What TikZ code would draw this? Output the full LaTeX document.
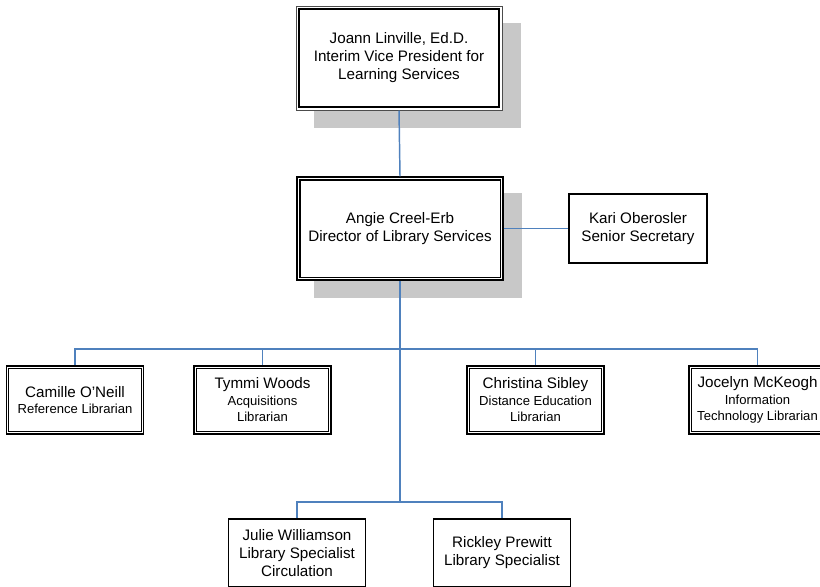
\documentclass[tikz,border=0pt]{standalone}
\usepackage{fontspec}
\setmainfont{Liberation Sans}
\usetikzlibrary{backgrounds}
\definecolor{link}{RGB}{79,129,189}
\definecolor{shade}{RGB}{200,200,200}
\newcommand{\nmsz}{\fontsize{11.4}{12.4}\selectfont}
\newcommand{\smsz}{\fontsize{9.8}{12.4}\selectfont}
% lower a centred block of lines by a small amount
\newcommand{\lowered}[2]{\raisebox{-#1}{\begin{tabular}{@{}c@{}}#2\end{tabular}}}

\begin{document}
\begin{tikzpicture}[x=0.75pt,y=-0.75pt,
  box/.style={draw=black, fill=white, inner sep=0pt, align=center,
    font=\fontsize{11.4}{13.5}\selectfont},
  bigbox/.style={box, minimum width=154.5pt},
  staff/.style={box, line width=1.25pt, minimum width=102.75pt, minimum height=51pt, font=\smsz},
  plain/.style={box, line width=1.1pt},
  conn/.style={draw=link, line width=1.1pt},
  shadowbox/.style={fill=shade}]

\useasboundingbox (0,0) rectangle (820,586);
\clip (0,0) rectangle (820,586);

% top of the chart
\node[bigbox, draw=black!70, line width=0.75pt, minimum height=78pt] (vp) at (399,58)
  {\lowered{1.5pt}{Joann Linville, Ed.D.\\Interim Vice President for\\Learning Services}};
\draw[line width=1.5pt] ([shift={(3.5,3.5)}]vp.north west) rectangle ([shift={(-3.5,-3.5)}]vp.south east);

\node[bigbox, line width=1.1pt, minimum height=77.25pt] (dir) at (400,228.5)
  {Angie Creel-Erb\\Director of Library Services};
\draw[line width=1.1pt] ([shift={(3.5,3.5)}]dir.north west) rectangle ([shift={(-3.5,-3.5)}]dir.south east);

\node[plain, minimum width=103.5pt, minimum height=51.75pt] (sec) at (638,228.5)
  {Kari Oberosler\\Senior Secretary};

% librarians
\node[staff] (cam) at (75,400) {{\nmsz Camille O'Neill}\\Reference Librarian};
\node[staff] (tym) at (262.5,400) {{\nmsz Tymmi Woods}\\Acquisitions\\Librarian};
\node[staff] (chr) at (535.5,400) {{\nmsz Christina Sibley}\\Distance Education\\Librarian};
\node[staff] (joc) at (757.5,400) {{\nmsz Jocelyn McKeogh}\\Information\\Technology Librarian};
\foreach \n in {cam,tym,chr,joc}
  \draw[line width=0.75pt] ([shift={(3,3)}]\n.north west) rectangle ([shift={(-3,-3)}]\n.south east);

% specialists
\node[plain, minimum width=102.75pt, minimum height=51pt] (jul) at (297,553)
  {Julie Williamson\\Library Specialist\\Circulation};
\node[plain, minimum width=102.75pt, minimum height=51pt] (ric) at (502,553)
  {Rickley Prewitt\\Library Specialist};

% drop shadows behind the two leading boxes
\begin{scope}[on background layer]
  \foreach \n in {vp,dir}
    \fill[shadowbox] ([shift={(18,17)}]\n.north west) rectangle ([shift={(18,17)}]\n.south east);
\end{scope}

% reporting lines
\coordinate (busA) at (400,349);
\coordinate (busB) at (400,502);
\draw[conn] (vp.south) -- (dir.north);
\draw[conn] (dir.east) -- (sec.west);
\draw[conn] (dir.south) -- (busB);
\draw[conn] (cam.north) |- (busA) -| (joc.north);
\draw[conn] (tym.north) |- (busA);
\draw[conn] (chr.north) |- (busA);
\draw[conn] (jul.north) |- (busB) -| (ric.north);
\end{tikzpicture}
\end{document}
